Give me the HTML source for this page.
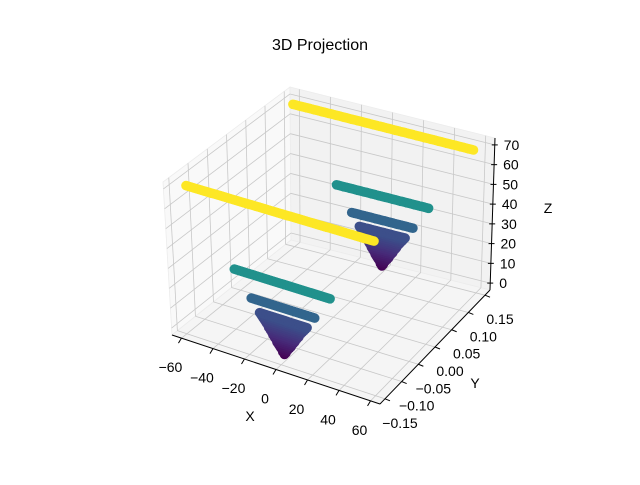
<!DOCTYPE html>
<html><head><meta charset="utf-8"><style>
html,body{margin:0;padding:0;background:#fff;}
svg text{font-family:"Liberation Sans","DejaVu Sans",sans-serif;}
</style></head><body>
<svg id="chart" width="640" height="480" viewBox="0 0 640 480" xmlns="http://www.w3.org/2000/svg">
<rect width="640" height="480" fill="#fff"/>
<text x="320" y="50" text-anchor="middle" font-size="16" fill="#000">3D Projection</text>
<g id="panes"></g><g id="grid"></g><g id="axes"></g><g id="marks"></g>
<text x="250" y="421" text-anchor="middle" font-size="14">X</text>
<text x="475" y="388" text-anchor="middle" font-size="14">Y</text>
<text x="548" y="213" text-anchor="middle" font-size="14">Z</text>
</svg>
<script>
const levelZ = [70,35,23,17,16,15,14,13,12,11,10,9,8,7,6,5,4,3,2,1,0];
const levelHalf = [58,30,20,15,14,13,12,11,10,9.5,8.5,7.5,7,6,5,4.5,3.5,2.5,1.5,1,0];
const groupY = [0.14,-0.14];
const xTicks = [-60,-40,-20,0,20,40,60];
const yTicks = [-0.15,-0.10,-0.05,0.00,0.05,0.10,0.15];
const yTickLabels = ["\u22120.15","\u22120.10","\u22120.05","0.00","0.05","0.10","0.15"];
const zTicks = [0,10,20,30,40,50,60,70];

const XL=[-66,66], YL=[-0.165,0.165], ZL=[-3.5,73.5];
const C = {
 "000":[172,335],"100":[380,404],"010":[291,240],"110":[490,290],
 "001":[163,182],"101":[378,246],"011":[290,87],"111":[495,138]};
function lerp(a,b,t){return [a[0]+(b[0]-a[0])*t,a[1]+(b[1]-a[1])*t];}
function P(x,y,z){
 const u=(x-XL[0])/(XL[1]-XL[0]), v=(y-YL[0])/(YL[1]-YL[0]), w=(z-ZL[0])/(ZL[1]-ZL[0]);
 const b0=lerp(C["000"],C["100"],u), b1=lerp(C["010"],C["110"],u);
 const t0=lerp(C["001"],C["101"],u), t1=lerp(C["011"],C["111"],u);
 return lerp(lerp(b0,b1,v),lerp(t0,t1,v),w);
}
const NS="http://www.w3.org/2000/svg";
function mk(tag,attrs,parent){const e=document.createElementNS(NS,tag);for(const k in attrs)e.setAttribute(k,attrs[k]);parent.appendChild(e);return e;}
const panes=document.getElementById('panes'),grid=document.getElementById('grid'),axes=document.getElementById('axes'),marks=document.getElementById('marks');
function poly(pts,fill,parent){return mk('polygon',{points:pts.map(p=>p.join(',')).join(' '),fill:fill,stroke:'#ececec','stroke-width':0.8},parent);}
let e;
e=poly([P(XL[0],YL[0],ZL[0]),P(XL[0],YL[1],ZL[0]),P(XL[0],YL[1],ZL[1]),P(XL[0],YL[0],ZL[1])],'#f9f9f9',panes);


e=poly([P(XL[0],YL[1],ZL[0]),P(XL[1],YL[1],ZL[0]),P(XL[1],YL[1],ZL[1]),P(XL[0],YL[1],ZL[1])],'#f2f2f2',panes);


e=poly([P(XL[0],YL[0],ZL[0]),P(XL[1],YL[0],ZL[0]),P(XL[1],YL[1],ZL[0]),P(XL[0],YL[1],ZL[0])],'#f5f5f5',panes);


function line(a,b,stroke,w,parent){return mk('line',{x1:a[0],y1:a[1],x2:b[0],y2:b[1],stroke:stroke,'stroke-width':w},parent);}
const gc='#c8c8c8';
xTicks.forEach(t=>{
 e=line(P(t,YL[1],ZL[0]),P(t,YL[1],ZL[1]),gc,0.8,grid);
 
 
 e=line(P(t,YL[0],ZL[0]),P(t,YL[1],ZL[0]),gc,0.8,grid);
 
 
 const a=P(t,YL[0],ZL[0]);
 e=line(a,[a[0]-3,a[1]+5],'#000',1,axes);
 
 
 e=mk('text',{x:a[0]-11,y:a[1]+34,'text-anchor':'middle','font-size':14},axes);
 e.textContent=t<0?'\u2212'+Math.abs(t):String(t);
 
 
});
yTicks.forEach((t,i)=>{
 e=line(P(XL[0],t,ZL[0]),P(XL[0],t,ZL[1]),gc,0.8,grid);
 
 
 e=line(P(XL[0],t,ZL[0]),P(XL[1],t,ZL[0]),gc,0.8,grid);
 
 
 const a=P(XL[1],t,ZL[0]);
 e=line(a,[a[0]+5,a[1]+2],'#000',1,axes);
 
 
 e=mk('text',{x:a[0]+15,y:a[1]+29,'text-anchor':'middle','font-size':14},axes);
 e.textContent=yTickLabels[i];
 
 
});
zTicks.forEach(t=>{
 e=line(P(XL[0],YL[0],t),P(XL[0],YL[1],t),gc,0.8,grid);
 
 
 e=line(P(XL[0],YL[1],t),P(XL[1],YL[1],t),gc,0.8,grid);
 
 
 const a=P(XL[1],YL[1],t);
 e=line([a[0]-3,a[1]],[a[0]+3,a[1]],'#000',1,axes);
 
 
 e=mk('text',{x:a[0]+9,y:a[1]+5,'font-size':14},axes);
 e.textContent=String(t);
 
 
});
e=line(P(XL[0],YL[0],ZL[0]),P(XL[1],YL[0],ZL[0]),'#000',1,axes);


e=line(P(XL[1],YL[0],ZL[0]),P(XL[1],YL[1],ZL[0]),'#000',1,axes);


e=line(P(XL[1],YL[1],ZL[0]),P(XL[1],YL[1],ZL[1]),'#000',1,axes);



const VS=[[0,[68,1,84]],[0.125,[71,44,122]],[0.25,[59,81,139]],[0.375,[44,113,142]],[0.5,[33,145,140]],[0.625,[39,173,129]],[0.75,[92,200,99]],[0.875,[170,220,50]],[1,[253,231,37]]];
function viridis(t){t=Math.max(0,Math.min(1,t));for(let i=1;i<VS.length;i++){if(t<=VS[i][0]){const a=VS[i-1],b=VS[i],f=(t-a[0])/(b[0]-a[0]);return 'rgb('+a[1].map((c,k)=>Math.round(c+(b[1][k]-c)*f)).join(',')+')';}}return 'rgb(253,231,37)';}
const zmin=Math.min(...levelZ), zmax=Math.max(...levelZ);
groupY.forEach(gy=>{
 const order=levelZ.map((z,i)=>i).sort((a,b)=>levelZ[a]-levelZ[b]);
 order.forEach(i=>{
  const z=levelZ[i], h=levelHalf[i], col=viridis((z-zmin)/(zmax-zmin));
  const n=Math.max(1,Math.round(h*2));
  for(let k=0;k<=n;k++){
   const x=h===0?0:-h+2*h*k/n;
   const p=P(x,gy,z);
   const c=mk('circle',{cx:p[0].toFixed(1),cy:p[1].toFixed(1),r:4.8,fill:col},marks);
   
   
   if(h===0)break;
  }
 });
});
</script>
</body></html>
